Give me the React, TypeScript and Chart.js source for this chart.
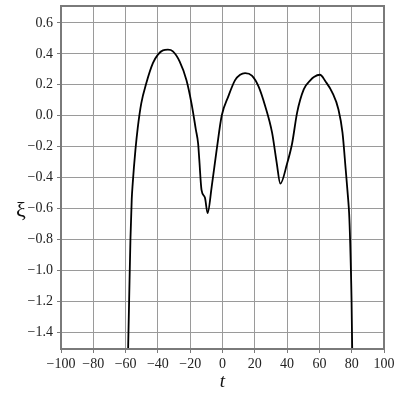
import React, { useEffect, useRef } from "react";
import { Chart, registerables } from "chart.js";

Chart.register(...registerables);

const tValues = [
  -58.6, -58.4, -57.8, -57.0, -56.2, -55.6, -53.9, -52.5, -50.3, -47.2, -43.1, -40.0, -36.9, -33.8,
  -30.7, -26.5, -22.3, -19.2, -16.5, -15.1, -14.4, -13.0, -10.9, -9.2, -6.7, -3.6, -0.5, 3.6, 7.8,
  10.9, 14.0, 18.2, 22.3, 26.5, 30.7, 33.5, 35.8, 40.0, 43.1, 46.2, 50.3, 54.5, 56.6, 60.3, 63.9,
  68.0, 71.8, 74.3, 76.3, 77.8, 78.4, 79.0, 79.9, 80.3, 80.4,
];
const xiValues = [
  -1.6, -1.49, -1.19, -0.8, -0.54, -0.44, -0.22, -0.08, 0.08, 0.21, 0.34, 0.395, 0.423, 0.427,
  0.416, 0.35, 0.23, 0.08, -0.09, -0.18, -0.28, -0.48, -0.53, -0.63, -0.46, -0.22, 0.0, 0.125, 0.23,
  0.265, 0.276, 0.26, 0.19, 0.06, -0.11, -0.3, -0.44, -0.31, -0.18, 0.02, 0.17, 0.23, 0.25, 0.265,
  0.22, 0.15, 0.04, -0.11, -0.35, -0.54, -0.63, -0.8, -1.19, -1.5, -1.6,
];
const xTicks = [-100, -80, -60, -40, -20, 0, 20, 40, 60, 80, 100];
const yTicks = [0.6, 0.4, 0.2, 0.0, -0.2, -0.4, -0.6, -0.8, -1.0, -1.2, -1.4];
const xLabel = "t";
const yLabel = "ξ";

const fmt = (v: number, d: number) => {
  const s = v.toFixed(d);
  return s.startsWith("-") ? "\u2212" + s.slice(1) : s;
};

export default function App() {
  const ref = useRef<HTMLCanvasElement | null>(null);
  useEffect(() => {
    if (!ref.current) return;
    const framePlugin = {
      id: "frame",
      afterDraw(chart: any) {
        const { ctx, chartArea } = chart;
        ctx.save();
        ctx.strokeStyle = "#7a7a7a";
        ctx.lineWidth = 2;
        ctx.strokeRect(chartArea.left, chartArea.top, chartArea.right - chartArea.left, chartArea.bottom - chartArea.top);
        ctx.fillStyle = "#111";
        ctx.textAlign = "center";
        ctx.textBaseline = "middle";
        ctx.font = "22px 'Liberation Serif'";
        ctx.fillText(yLabel, 21, 211);
        ctx.font = "italic 19px 'Liberation Serif'";
        ctx.fillText(xLabel, (chartArea.left + chartArea.right) / 2, 382);
        ctx.restore();
      },
    };
    const chart = new Chart(ref.current, {
      type: "line",
      data: {
        datasets: [
          {
            data: tValues.map((t, i) => ({ x: t, y: xiValues[i] })),
            borderColor: "#000",
            borderWidth: 1.8,
            pointRadius: 0,
            cubicInterpolationMode: "monotone",
            fill: false,
          },
        ],
      },
      options: {
        animation: false,
        responsive: false,
        maintainAspectRatio: false,
        layout: { padding: { top: 6, right: 16, left: 0, bottom: 0 } },
        plugins: { legend: { display: false }, tooltip: { enabled: false } },
        scales: {
          x: {
            type: "linear",
            min: -100,
            max: 100,
            afterBuildTicks: (s: any) => {
              s.ticks = xTicks.map((v) => ({ value: v }));
            },
            afterFit: (s: any) => {
              s.height = 51;
              s.paddingLeft = 0;
              s.paddingRight = 0;
            },
            grid: { color: "#9a9a9a", lineWidth: 1, drawTicks: true, tickLength: 4, tickColor: "#7a7a7a" },
            border: { display: false },
            ticks: {
              color: "#222",
              padding: 3,
              maxRotation: 0,
              autoSkip: false,
              font: { family: "'Liberation Serif'", size: 14 },
              callback: (v: any) => fmt(Number(v), 0),
            },
          },
          y: {
            type: "linear",
            min: -1.51,
            max: 0.71,
            afterBuildTicks: (s: any) => {
              s.ticks = yTicks.map((v) => ({ value: v }));
            },
            afterFit: (s: any) => {
              s.width = 61;
              s.paddingTop = 0;
              s.paddingBottom = 0;
            },
            grid: { color: "#9a9a9a", lineWidth: 1, drawTicks: true, tickLength: 4, tickColor: "#7a7a7a" },
            border: { display: false },
            ticks: {
              color: "#222",
              padding: 4,
              autoSkip: false,
              font: { family: "'Liberation Serif'", size: 14 },
              callback: (v: any) => fmt(Number(v), 1),
            },
          },
        },
      },
      plugins: [framePlugin],
    } as any);
    return () => chart.destroy();
  }, []);
  return (
    <div style={{ position: "fixed", left: 0, top: 0, width: 400, height: 400, background: "#fff" }}>
      <canvas ref={ref} width={400} height={400} style={{ width: 400, height: 400 }} />
    </div>
  );
}
